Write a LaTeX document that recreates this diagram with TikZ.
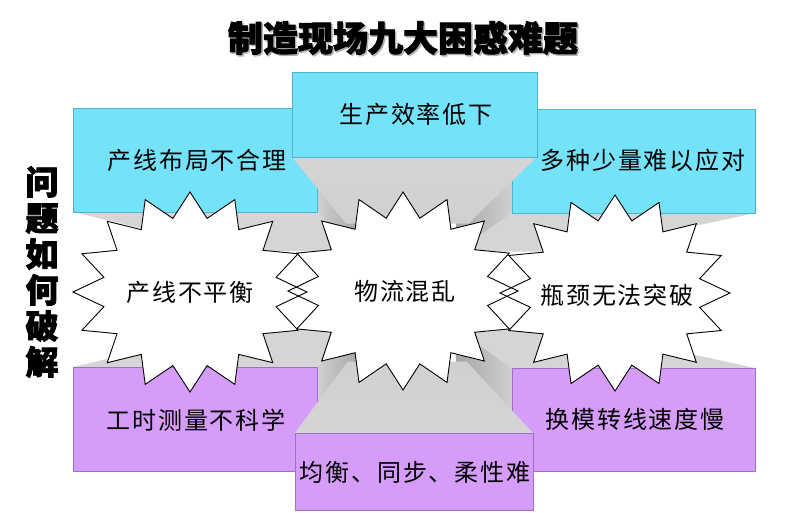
\documentclass[tikz,border=0pt]{standalone}
\usepackage{fontspec}
\newfontfamily\cjk[LetterSpace=8]{Noto Sans CJK SC}
\newfontfamily\cjkt[BoldFeatures={FakeBold=2.5}]{Noto Sans CJK SC}
\definecolor{boxblue}{HTML}{74E3F9}
\definecolor{boxblueedge}{HTML}{4FB5CC}
\definecolor{boxpurple}{HTML}{D59DF9}
\definecolor{boxpurpleedge}{HTML}{9F6FC0}
\definecolor{facegray}{HTML}{D5D5D5}
\definecolor{sidelight}{HTML}{D0D0D0}
\definecolor{sidedark}{HTML}{A6A6A6}
\newcommand\burstpath[4]{plot[samples at={0,...,31}, variable=\k] ({#1+(#3)*(1-0.25*mod(\k,2))*cos(90+11.25*\k)}, {#2+(#4)*(1-0.25*mod(\k,2))*sin(90+11.25*\k)}) -- cycle}
\tikzset{
  bluebox/.style={fill=boxblue, draw=boxblueedge, line width=0.6pt},
  purplebox/.style={fill=boxpurple, draw=boxpurpleedge, line width=0.6pt},
  flatface/.style={fill=facegray},
  burstfill/.style={fill=white},
  burstline/.style={draw=black, line width=0.9pt, line join=miter},
  lbl/.style={font=\cjk\fontsize{24}{26}\selectfont, inner sep=0pt},
  headline/.style={font=\cjkt\bfseries\fontsize{35}{38}\selectfont, inner sep=0pt},
  sidehead/.style={font=\cjkt\bfseries\fontsize{33}{36}\selectfont, inner sep=0pt, align=center}
}
\begin{document}
\begin{tikzpicture}[x=1pt,y=-1pt]
\useasboundingbox (0,0) rectangle (800,512);
\fill[white] (0,0) rectangle (800,512);

% ---- top-left box with extrusion
\fill[flatface] (73,212) -- (317,212) -- (358.5,251) -- (236.5,251) -- cycle;
\shade[left color=sidelight, right color=sidedark] (317,108) -- (317,212) -- (358.5,251) -- (358.5,199) -- cycle;
\draw[bluebox] (73,108) rectangle (317,212);

% ---- top-right box with extrusion
\fill[flatface] (512,213) -- (755,213) -- (577.5,251.5) -- (456,251.5) -- cycle;
\shade[left color=sidedark, right color=sidelight] (512,109) -- (512,213) -- (456,251.5) -- (456,199.5) -- cycle;
\draw[bluebox] (512,109) rectangle (755,213);

% ---- bottom-left box with extrusion
\fill[flatface] (73,367) -- (317,367) -- (358.5,328.5) -- (236.5,328.5) -- cycle;
\shade[left color=sidelight, right color=sidedark] (317,367) -- (317,471) -- (358.5,380.5) -- (358.5,328.5) -- cycle;
\draw[purplebox] (73,367) rectangle (317,471);

% ---- bottom-right box with extrusion
\fill[flatface] (512,368) -- (755,368) -- (577.5,329) -- (456,329) -- cycle;
\shade[left color=sidedark, right color=sidelight] (512,368) -- (512,471) -- (456,380.5) -- (456,329) -- cycle;
\draw[purplebox] (512,368) rectangle (755,471);

% ---- top-center box with extrusion
\shade[top color=facegray, bottom color=sidelight] (292,157) -- (537,157) -- (468.5,223.5) -- (346,223.5) -- cycle;
\draw[bluebox] (292,72) rectangle (537,157);

% ---- bottom-center box with extrusion
\shade[top color=sidelight, bottom color=facegray] (295,433) -- (533,433) -- (466.5,361.5) -- (347.5,361.5) -- cycle;
\draw[purplebox] (295,433) rectangle (533,510);

% ---- starbursts
\fill[burstfill] \burstpath{190}{292}{117}{100};
\fill[burstfill] \burstpath{403}{291}{115}{99};
\fill[burstfill] \burstpath{615}{293}{115}{98};
\draw[burstline] \burstpath{190}{292}{117}{100};
\draw[burstline] \burstpath{403}{291}{115}{99};
\draw[burstline] \burstpath{615}{293}{115}{98};

% ---- texts
\node[headline, text=black!30] (titleshadow) at (404.5,39.5) {制造现场九大困惑难题};
\node[headline] (title) at (403,38) {制造现场九大困惑难题};
\node[sidehead] (side) at (42,272) {问\\题\\如\\何\\破\\解};

\node[lbl] (t1) at (197,160) {产线布局不合理};
\node[lbl] (t2) at (416,114) {生产效率低下};
\node[lbl] (t3) at (643,160) {多种少量难以应对};
\node[lbl] (t4) at (196,420) {工时测量不科学};
\node[lbl] (t5) at (635,419) {换模转线速度慢};
\node[lbl] (t6) at (415,472) {均衡、同步、柔性难};
\node[lbl] (s1) at (190,292) {产线不平衡};
\node[lbl] (s2) at (405,291) {物流混乱};
\node[lbl] (s3) at (617,295) {瓶颈无法突破};
\end{tikzpicture}
\end{document}
